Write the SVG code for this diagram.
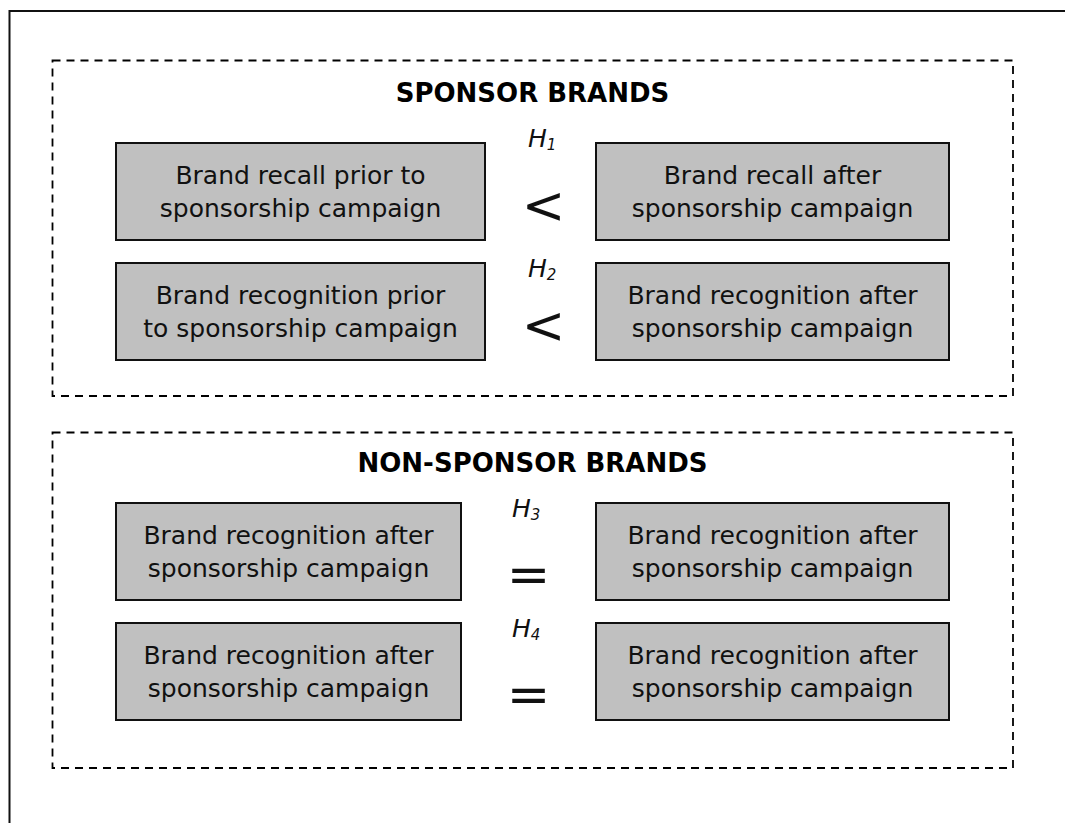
<svg xmlns="http://www.w3.org/2000/svg" width="1065" height="823" viewBox="0 0 1065 823">
<style>
.frame{fill:none;stroke:#111;stroke-width:2}
.dash{fill:none;stroke:#000;stroke-width:1.8;stroke-dasharray:8,6}
.box{fill:#c0c0c0;stroke:#111;stroke-width:2}
.t{font-family:"DejaVu Sans",Verdana,sans-serif;font-size:25px;fill:#111;text-anchor:middle}
.title{font-family:"DejaVu Sans",Verdana,sans-serif;font-size:26px;font-weight:bold;fill:#000;text-anchor:middle}
.h{font-family:"DejaVu Sans",Verdana,sans-serif;font-size:25px;font-style:italic;fill:#111}
.sub{font-size:15px}
.op{font-family:"DejaVu Sans",Verdana,sans-serif;font-size:52px;fill:#111;text-anchor:middle}
</style>
<rect class="frame" x="9.5" y="11" width="1100" height="900"/>
<g id="sponsor-group">
<rect class="dash" x="52.5" y="60.5" width="960.5" height="335.5"/>
<text class="title" x="532.5" y="102">SPONSOR BRANDS</text>
</g>
<g id="nonsponsor-group">
<rect class="dash" x="52.5" y="432.5" width="960.5" height="335.5"/>
<text class="title" x="532.5" y="472">NON-SPONSOR BRANDS</text>
</g>
<g id="s-recall-prior"><rect class="box" x="116" y="143" width="369" height="97"/><text class="t" x="300.5" y="184">Brand recall prior to</text><text class="t" x="300.5" y="217">sponsorship campaign</text></g>
<g id="s-recall-after"><rect class="box" x="596" y="143" width="353" height="97"/><text class="t" x="772.5" y="184">Brand recall after</text><text class="t" x="772.5" y="217">sponsorship campaign</text></g>
<g id="s-recog-prior"><rect class="box" x="116" y="263" width="369" height="97"/><text class="t" x="300.5" y="304">Brand recognition prior</text><text class="t" x="300.5" y="337">to sponsorship campaign</text></g>
<g id="s-recog-after"><rect class="box" x="596" y="263" width="353" height="97"/><text class="t" x="772.5" y="304">Brand recognition after</text><text class="t" x="772.5" y="337">sponsorship campaign</text></g>
<g id="n-recog-1l"><rect class="box" x="116" y="503" width="345" height="97"/><text class="t" x="288.5" y="544">Brand recognition after</text><text class="t" x="288.5" y="577">sponsorship campaign</text></g>
<g id="n-recog-1r"><rect class="box" x="596" y="503" width="353" height="97"/><text class="t" x="772.5" y="544">Brand recognition after</text><text class="t" x="772.5" y="577">sponsorship campaign</text></g>
<g id="n-recog-2l"><rect class="box" x="116" y="623" width="345" height="97"/><text class="t" x="288.5" y="664">Brand recognition after</text><text class="t" x="288.5" y="697">sponsorship campaign</text></g>
<g id="n-recog-2r"><rect class="box" x="596" y="623" width="353" height="97"/><text class="t" x="772.5" y="664">Brand recognition after</text><text class="t" x="772.5" y="697">sponsorship campaign</text></g>
<g id="relations">
<text class="h" x="528" y="147">H<tspan class="sub" dy="3">1</tspan></text>
<text class="op" x="543.5" y="223">&lt;</text>
<text class="h" x="528" y="277">H<tspan class="sub" dy="3">2</tspan></text>
<text class="op" x="543.5" y="343">&lt;</text>
<text class="h" x="512" y="517">H<tspan class="sub" dy="3">3</tspan></text>
<text class="op" x="528.5" y="592">=</text>
<text class="h" x="512" y="637">H<tspan class="sub" dy="3">4</tspan></text>
<text class="op" x="528.5" y="712">=</text>
</g>
</svg>
